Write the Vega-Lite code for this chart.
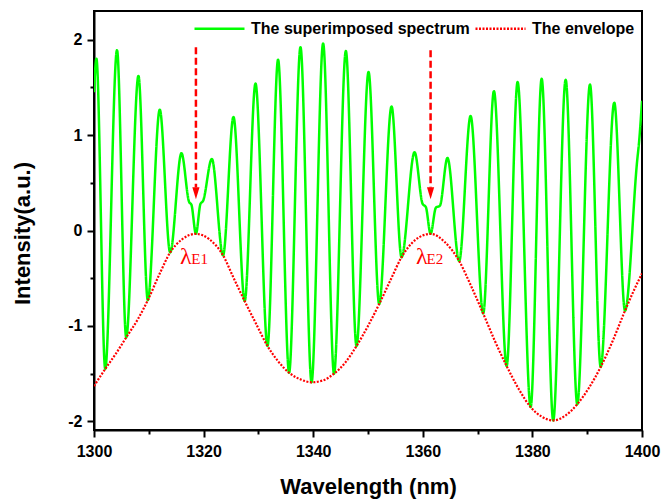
{
  "$schema": "https://vega.github.io/schema/vega-lite/v6.json",
  "width": 548,
  "height": 419,
  "autosize": "none",
  "padding": {"left": 94, "top": 11, "right": 20, "bottom": 71},
  "background": "white",
  "config": {
    "view": {"stroke": "black", "strokeWidth": 2},
    "font": "Liberation Sans",
    "axis": {
      "domainColor": "black", "domainWidth": 2, "tickColor": "black", "tickWidth": 2,
      "labelFont": "Liberation Sans", "labelFontWeight": "bold", "labelFontSize": 16, "labelColor": "black",
      "titleFont": "Liberation Sans", "titleFontWeight": "bold", "titleFontSize": 22, "titleColor": "black",
      "grid": false, "labelFlush": false, "labelOverlap": false
    }
  },
  "datasets": {
    "spec": [
      {"wl": 1300.0, "val": 1.45}, {"wl": 1300.44, "val": 1.80}, {"wl": 1302.05, "val": -1.45},
      {"wl": 1304.2, "val": 1.89}, {"wl": 1305.88, "val": -1.12}, {"wl": 1308.11, "val": 1.62},
      {"wl": 1309.82, "val": -0.73}, {"wl": 1312.0, "val": 1.266}, {"wl": 1313.9, "val": -0.23},
      {"wl": 1315.96, "val": 0.81}, {"wl": 1317.35, "val": 0.30}, {"wl": 1317.78, "val": 0.27},
      {"wl": 1318.6, "val": -0.035}, {"wl": 1319.43, "val": 0.28}, {"wl": 1319.9, "val": 0.31},
      {"wl": 1321.5, "val": 0.75}, {"wl": 1323.55, "val": -0.26}, {"wl": 1325.45, "val": 1.19},
      {"wl": 1327.5, "val": -0.74}, {"wl": 1329.47, "val": 1.54}, {"wl": 1331.66, "val": -1.21},
      {"wl": 1333.59, "val": 1.79}, {"wl": 1335.6, "val": -1.49}, {"wl": 1337.68, "val": 1.92},
      {"wl": 1339.7, "val": -1.59}, {"wl": 1341.81, "val": 1.96}, {"wl": 1343.8, "val": -1.50},
      {"wl": 1345.96, "val": 1.88}, {"wl": 1347.9, "val": -1.21}, {"wl": 1350.1, "val": 1.66},
      {"wl": 1352.04, "val": -0.77}, {"wl": 1354.3, "val": 1.30}, {"wl": 1356.12, "val": -0.28},
      {"wl": 1358.5, "val": 0.82}, {"wl": 1359.96, "val": 0.28}, {"wl": 1360.56, "val": 0.245},
      {"wl": 1361.42, "val": -0.035}, {"wl": 1362.39, "val": 0.24}, {"wl": 1363.12, "val": 0.26},
      {"wl": 1364.5, "val": 0.76}, {"wl": 1366.64, "val": -0.32}, {"wl": 1368.72, "val": 1.20},
      {"wl": 1371.02, "val": -0.87}, {"wl": 1372.98, "val": 1.46}, {"wl": 1375.3, "val": -1.42},
      {"wl": 1377.3, "val": 1.555}, {"wl": 1379.68, "val": -1.85}, {"wl": 1381.69, "val": 1.59},
      {"wl": 1383.8, "val": -1.99}, {"wl": 1386.07, "val": 1.58}, {"wl": 1388.19, "val": -1.82},
      {"wl": 1390.51, "val": 1.53}, {"wl": 1392.46, "val": -1.43}, {"wl": 1394.94, "val": 1.34},
      {"wl": 1396.9, "val": -0.84}, {"wl": 1399.1, "val": 0.72}, {"wl": 1399.5, "val": 0.95},
      {"wl": 1400.0, "val": 1.36}
    ],
    "env": [
      {"wl": 1300.0, "val": -1.63}, {"wl": 1302.05, "val": -1.45}, {"wl": 1304.0, "val": -1.29},
      {"wl": 1305.88, "val": -1.12}, {"wl": 1308.0, "val": -0.93}, {"wl": 1309.82, "val": -0.73},
      {"wl": 1312.0, "val": -0.45}, {"wl": 1313.9, "val": -0.23}, {"wl": 1316.0, "val": -0.095},
      {"wl": 1318.6, "val": -0.035}, {"wl": 1321.0, "val": -0.09}, {"wl": 1323.55, "val": -0.26},
      {"wl": 1325.5, "val": -0.50}, {"wl": 1327.5, "val": -0.74}, {"wl": 1329.6, "val": -0.98},
      {"wl": 1331.66, "val": -1.21}, {"wl": 1333.6, "val": -1.37}, {"wl": 1335.6, "val": -1.49},
      {"wl": 1337.7, "val": -1.56}, {"wl": 1339.7, "val": -1.59}, {"wl": 1341.8, "val": -1.57},
      {"wl": 1343.8, "val": -1.50}, {"wl": 1345.9, "val": -1.38}, {"wl": 1347.9, "val": -1.21},
      {"wl": 1350.0, "val": -1.00}, {"wl": 1352.04, "val": -0.77}, {"wl": 1354.1, "val": -0.52},
      {"wl": 1356.12, "val": -0.28}, {"wl": 1358.6, "val": -0.10}, {"wl": 1361.42, "val": -0.035},
      {"wl": 1364.0, "val": -0.12}, {"wl": 1366.64, "val": -0.32}, {"wl": 1368.8, "val": -0.58},
      {"wl": 1371.02, "val": -0.87}, {"wl": 1373.1, "val": -1.15}, {"wl": 1375.3, "val": -1.42},
      {"wl": 1377.5, "val": -1.66}, {"wl": 1379.68, "val": -1.85}, {"wl": 1381.7, "val": -1.95},
      {"wl": 1383.8, "val": -1.99}, {"wl": 1386.0, "val": -1.94}, {"wl": 1388.19, "val": -1.82},
      {"wl": 1390.3, "val": -1.65}, {"wl": 1392.46, "val": -1.43}, {"wl": 1394.7, "val": -1.15},
      {"wl": 1396.9, "val": -0.84}, {"wl": 1398.5, "val": -0.63}, {"wl": 1400.0, "val": -0.45}
    ],
    "arrows": [
      {"wl": 1318.6, "top": 1.92, "bottom": 0.45, "head": 0.39},
      {"wl": 1361.42, "top": 1.89, "bottom": 0.45, "head": 0.39}
    ],
    "lams": [
      {"wl": 1315.7, "val": -0.349, "txt": "λ"},
      {"wl": 1358.75, "val": -0.349, "txt": "λ"}
    ],
    "subs": [
      {"wl": 1317.75, "val": -0.349, "txt": "E1"},
      {"wl": 1360.69, "val": -0.349, "txt": "E2"}
    ]
  },
  "layer": [
    {
      "data": {"name": "spec"},
      "transform": [{"calculate": "'The superimposed spectrum'", "as": "series"}],
      "mark": {"type": "line", "interpolate": "monotone", "strokeWidth": 2.5, "clip": true},
      "encoding": {
        "x": {
          "field": "wl", "type": "quantitative",
          "scale": {"domain": [1300, 1400], "nice": false, "zero": false},
          "axis": {
            "values": [1300, 1310, 1320, 1330, 1340, 1350, 1360, 1370, 1380, 1390, 1400],
            "labelExpr": "datum.value % 20 === 0 ? '' + datum.value : ''",
            "tickSize": {"condition": {"test": "datum.value % 20 === 0", "value": 7}, "value": 4},
            "labelPadding": 6,
            "title": "Wavelength (nm)", "titleY": 63, "titleBaseline": "alphabetic"
          }
        },
        "y": {
          "field": "val", "type": "quantitative",
          "scale": {"domain": [-2.09, 2.30], "nice": false, "zero": false},
          "axis": {
            "values": [-2, -1.5, -1, -0.5, 0, 0.5, 1, 1.5, 2],
            "labelExpr": "datum.value % 1 === 0 ? '' + datum.value : ''",
            "tickSize": {"condition": {"test": "datum.value % 1 === 0", "value": 7}, "value": 4},
            "labelPadding": 5,
            "title": "Intensity(a.u.)", "titleX": -65, "titleY": 222, "titleBaseline": "alphabetic", "titleAlign": "center"
          }
        },
        "color": {
          "field": "series", "type": "nominal",
          "scale": {"domain": ["The superimposed spectrum", "The envelope"], "range": ["#00ff00", "#ff0000"]},
          "legend": {
            "title": null, "orient": "none", "legendX": 99, "legendY": -9, "direction": "horizontal",
            "symbolType": "stroke", "symbolSize": 2500, "symbolStrokeWidth": 2.5,
            "labelFont": "Liberation Sans", "labelFontWeight": "bold", "labelFontSize": 16, "labelColor": "black",
            "labelOffset": 5, "columnPadding": 0, "padding": 0, "labelLimit": 400
          }
        },
        "strokeDash": {
          "field": "series", "type": "nominal",
          "scale": {"domain": ["The superimposed spectrum", "The envelope"], "range": [[1, 0], [2, 1.5]]},
          "legend": {
            "title": null, "orient": "none", "legendX": 99, "legendY": -9, "direction": "horizontal",
            "symbolType": "stroke", "symbolSize": 2500, "symbolStrokeWidth": 2.5,
            "labelFont": "Liberation Sans", "labelFontWeight": "bold", "labelFontSize": 16, "labelColor": "black",
            "labelOffset": 5, "columnPadding": 0, "padding": 0, "labelLimit": 400
          }
        }
      }
    },
    {
      "data": {"name": "env"},
      "transform": [{"calculate": "'The envelope'", "as": "series"}],
      "mark": {"type": "line", "interpolate": "monotone", "strokeWidth": 2.2, "clip": true},
      "encoding": {
        "x": {"field": "wl", "type": "quantitative"},
        "y": {"field": "val", "type": "quantitative"},
        "color": {"field": "series", "type": "nominal"},
        "strokeDash": {"field": "series", "type": "nominal"}
      }
    },
    {
      "data": {"name": "arrows"},
      "mark": {"type": "rule", "color": "#ff0000", "strokeWidth": 2.5, "strokeDash": [7, 3.5]},
      "encoding": {
        "x": {"field": "wl", "type": "quantitative"},
        "y": {"field": "top", "type": "quantitative"},
        "y2": {"field": "bottom"}
      }
    },
    {
      "data": {"name": "arrows"},
      "mark": {"type": "point", "shape": "M-0.6,-1L0.6,-1L0,1Z", "filled": true, "color": "#ff0000", "opacity": 1, "size": 144},
      "encoding": {
        "x": {"field": "wl", "type": "quantitative"},
        "y": {"field": "head", "type": "quantitative"}
      }
    },
    {
      "data": {"name": "lams"},
      "mark": {"type": "text", "font": "Liberation Serif", "fontSize": 24, "color": "#ff0000", "align": "left", "baseline": "alphabetic"},
      "encoding": {
        "x": {"field": "wl", "type": "quantitative"},
        "y": {"field": "val", "type": "quantitative"},
        "text": {"field": "txt"}
      }
    },
    {
      "data": {"name": "subs"},
      "mark": {"type": "text", "font": "Liberation Serif", "fontSize": 15, "color": "#ff0000", "align": "left", "baseline": "alphabetic"},
      "encoding": {
        "x": {"field": "wl", "type": "quantitative"},
        "y": {"field": "val", "type": "quantitative"},
        "text": {"field": "txt"}
      }
    }
  ]
}
